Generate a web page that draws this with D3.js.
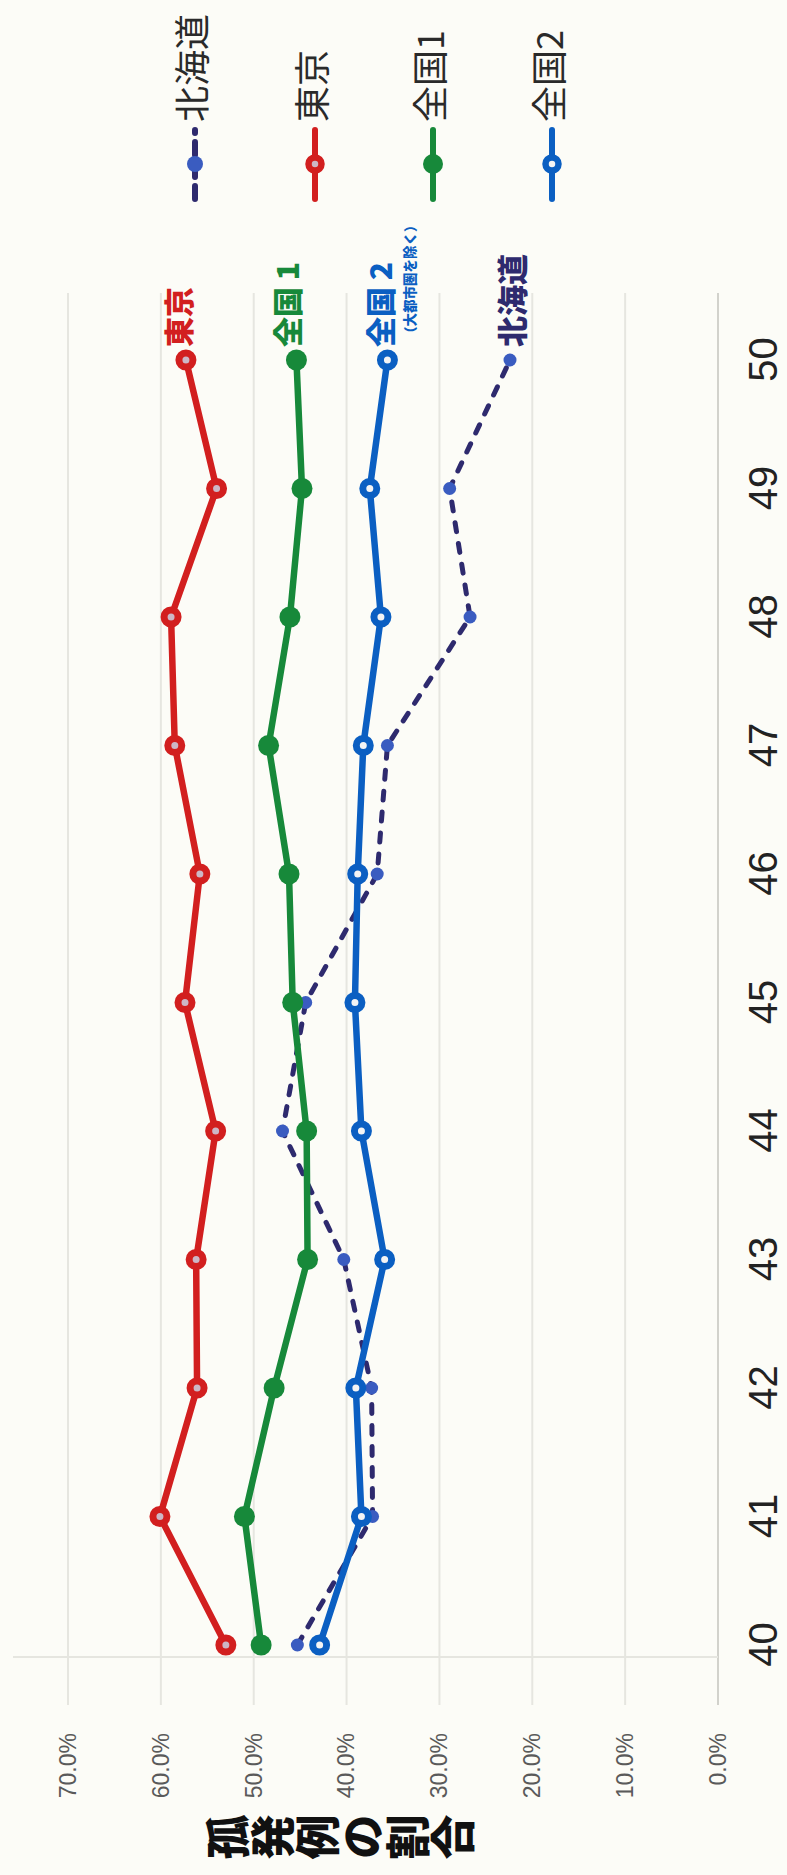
<!DOCTYPE html>
<html>
<head>
<meta charset="utf-8">
<script src="https://cdn.jsdelivr.net/npm/d3@7"></script>
<style>
  body { margin: 0; background: #fcfcf7; }
  svg { display: block; }
</style>
</head>
<body>
<div class="chart"></div>
<script>
// Data (years along the category axis, share of sporadic cases in %)
var years = [40, 41, 42, 43, 44, 45, 46, 47, 48, 49, 50];
var hokkaido = [45.3, 37.2, 37.3, 40.3, 46.9, 44.4, 36.7, 35.6, 26.7, 28.9, 22.4];
var tokyo = [53.0, 60.1, 56.1, 56.2, 54.1, 57.4, 55.8, 58.5, 58.9, 54.0, 57.3];
var zenkoku1 = [49.2, 51.0, 47.8, 44.2, 44.3, 45.8, 46.2, 48.4, 46.1, 44.8, 45.4];
var zenkoku2 = [42.9, 38.4, 39.0, 35.9, 38.4, 39.1, 38.8, 38.2, 36.3, 37.5, 35.6];

var seriesNames = ["北海道", "東京", "全国1", "全国2"];
var endLabels = ["北海道", "東京", "全国 1", "全国 2"];
var yTicks = [0, 10, 20, 30, 40, 50, 60, 70];
var yTickLabels = ["0.0%", "10.0%", "20.0%", "30.0%", "40.0%", "50.0%", "60.0%", "70.0%"];
var yTitle = "孤発例の割合";
var zenkoku2Note = "（大都市圏を除く）";

var svgWidth = 787;
var svgHeight = 1875;

// the whole chart is drawn sideways (turned a quarter turn to the left),
// so inside the group "u" runs along the page height and "v" along its width
var svg = d3.select(".chart")
  .append("svg")
  .attr("width", svgWidth)
  .attr("height", svgHeight);

svg.append("rect")
  .attr("width", svgWidth)
  .attr("height", svgHeight)
  .attr("fill", "#fcfcf7");

var chartGroup = svg.append("g")
  .attr("transform", `translate(0, ${svgHeight}) rotate(-90)`);

// scales
var xScale = d3.scalePoint()
  .domain(years)
  .range([230, 1515]);

var yScale = d3.scaleLinear()
  .domain([0, 70])
  .range([718, 68]);

var jp = "'Noto Sans CJK JP', 'Noto Sans CJK SC', sans-serif";
var latin = "'Liberation Sans Narrow', 'Arial Narrow', 'Liberation Sans', Arial, sans-serif";

// gridlines
chartGroup.selectAll(".grid")
  .data(yTicks)
  .enter()
  .append("line")
  .attr("class", "grid")
  .attr("x1", 170)
  .attr("x2", 1582)
  .attr("y1", d => yScale(d))
  .attr("y2", d => yScale(d))
  .attr("stroke", d => d === 0 ? "#d2d2cc" : "#e6e6e0")
  .attr("stroke-width", 2);

chartGroup.append("line")
  .attr("x1", 218)
  .attr("x2", 218)
  .attr("y1", 13)
  .attr("y2", yScale(0))
  .attr("stroke", "#e6e6e0")
  .attr("stroke-width", 2);

// axes
var bottomAxis = d3.axisBottom(xScale)
  .tickSize(0)
  .tickPadding(31);

var xAxisG = chartGroup.append("g")
  .attr("transform", `translate(0, ${yScale(0)})`)
  .call(bottomAxis);
xAxisG.select(".domain").remove();
xAxisG.selectAll("text")
  .attr("font-family", latin)
  .attr("font-size", 40)
  .attr("fill", "#222");

var leftAxis = d3.axisLeft(yScale)
  .tickValues(yTicks)
  .tickFormat((d, i) => yTickLabels[i])
  .tickSize(0)
  .tickPadding(0);

var yAxisG = chartGroup.append("g")
  .attr("transform", "translate(142, 0)")
  .call(leftAxis);
yAxisG.select(".domain").remove();
yAxisG.selectAll("text")
  .attr("font-family", "'Liberation Sans', Arial, sans-serif")
  .attr("font-size", 23)
  .attr("fill", "#5a5a5a");

// axis title, written top to bottom
chartGroup.append("text")
  .attr("x", 38)
  .attr("y", 205)
  .attr("font-family", jp)
  .attr("font-weight", 900)
  .attr("font-size", 45)
  .attr("fill", "#111")
  .style("writing-mode", "vertical-rl")
  .text(yTitle);

// series
var seriesValues = [hokkaido, tokyo, zenkoku1, zenkoku2];
var colors = ["#2e2a6e", "#d21f1f", "#17893a", "#0b5fc2"];
var markerFill = ["#3a5cc0", "#cdb7c6", "#17893a", "#f4f4f4"];
var markerR = [6.5, 7, 10.5, 7];
var markerStroke = [0, 7, 0, 7];

var series = seriesNames.map((name, i) => ({
  name: name,
  values: years.map((yr, j) => ({ year: yr, value: seriesValues[i][j] }))
}));

var line = d3.line()
  .x(d => xScale(d.year))
  .y(d => yScale(d.value));

series.forEach(function (s, i) {
  chartGroup.append("path")
    .datum(s.values)
    .attr("fill", "none")
    .attr("stroke", colors[i])
    .attr("stroke-width", i === 0 ? 5 : 6.5)
    .attr("stroke-linejoin", "round")
    .attr("stroke-linecap", "round")
    .attr("stroke-dasharray", i === 0 ? "9,12" : null)
    .attr("d", line);

  chartGroup.selectAll(".dot" + i)
    .data(s.values)
    .enter()
    .append("circle")
    .attr("class", "dot" + i)
    .attr("cx", d => xScale(d.year))
    .attr("cy", d => yScale(d.value))
    .attr("r", markerR[i])
    .attr("fill", markerFill[i])
    .attr("stroke", i === 0 ? "none" : colors[i])
    .attr("stroke-width", markerStroke[i]);
});

// labels at the end of each line
var lastYear = years[years.length - 1];
var endLabelV = [513, 179, 288, 381];
endLabels.forEach(function (lbl, i) {
  chartGroup.append("text")
    .attr("x", xScale(lastYear) + 13)
    .attr("y", endLabelV[i])
    .attr("dy", "0.36em")
    .attr("font-family", jp)
    .attr("font-weight", 900)
    .attr("font-size", i === 0 ? 31 : 30)
    .attr("fill", colors[i])
    .text(lbl);
});

chartGroup.append("text")
  .attr("x", xScale(lastYear) + 20)
  .attr("y", 410)
  .attr("dy", "0.36em")
  .attr("font-family", jp)
  .attr("font-weight", 900)
  .attr("font-size", 13.5)
  .attr("fill", colors[3])
  .text(zenkoku2Note);

// legend
var legendV = [195, 315, 433, 552];
var legend = chartGroup.selectAll(".legend")
  .data(series)
  .enter()
  .append("g")
  .attr("class", "legend")
  .attr("transform", (d, i) => `translate(1673, ${legendV[i]})`);

legend.append("line")
  .attr("x1", 3)
  .attr("x2", 72)
  .attr("y1", 0)
  .attr("y2", 0)
  .attr("stroke", (d, i) => colors[i])
  .attr("stroke-width", 6)
  .attr("stroke-linecap", "round")
  .attr("stroke-dasharray", (d, i) => i === 0 ? "13,9" : null);

legend.append("circle")
  .attr("cx", 38)
  .attr("cy", 0)
  .attr("r", (d, i) => i === 0 ? 8 : (i === 2 ? 10 : 6.5))
  .attr("fill", (d, i) => markerFill[i])
  .attr("stroke", (d, i) => i === 0 || i === 2 ? "none" : colors[i])
  .attr("stroke-width", 6.5);

legend.append("text")
  .attr("x", 80)
  .attr("y", -2)
  .attr("dy", "0.36em")
  .attr("font-family", jp)
  .attr("font-size", 36)
  .attr("fill", "#2a2a2a")
  .text(d => d.name);
</script>
</body>
</html>
